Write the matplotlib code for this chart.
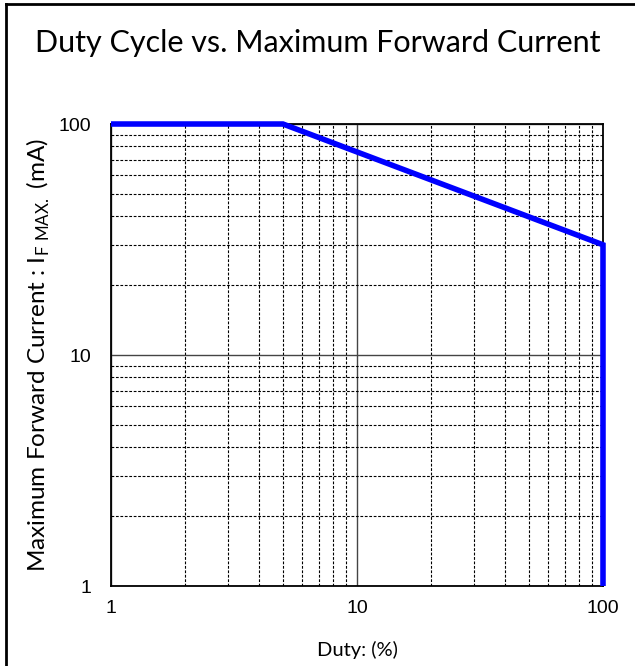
import matplotlib.pyplot as plt
from matplotlib.lines import Line2D
from matplotlib.ticker import FixedLocator, LogLocator, NullFormatter

# derating curve: duty cycle (%) vs max forward current (mA)
duty = [1, 5, 100, 100]
current = [100, 100, 30, 1]

x_ticks = [1, 10, 100]
x_tick_labels = ['1', '10', '100']
y_ticks = [1, 10, 100]
y_tick_labels = ['1', '10', '100']

plt.rcParams['font.family'] = 'Liberation Sans'
plt.rcParams['mathtext.fontset'] = 'custom'
plt.rcParams['mathtext.rm'] = 'Lato'

fig = plt.figure(figsize=(6.35, 6.66), dpi=100)
ax = fig.add_axes([0.1748, 0.1201, 0.7748, 0.6937])

ax.set_xscale('log')
ax.set_yscale('log')
ax.set_xlim(1, 100)
ax.set_ylim(1, 100)

ax.plot(duty, current, color='#0000ff', lw=4.0, solid_capstyle='butt',
        solid_joinstyle='miter', clip_on=False, zorder=5)

ax.xaxis.set_major_locator(FixedLocator(x_ticks))
ax.yaxis.set_major_locator(FixedLocator(y_ticks))
ax.set_xticklabels(x_tick_labels, fontfamily='Liberation Sans', fontsize=14)
ax.set_yticklabels(y_tick_labels, fontfamily='Liberation Sans', fontsize=14)
ax.xaxis.set_minor_locator(LogLocator(base=10, subs=range(2, 10)))
ax.yaxis.set_minor_locator(LogLocator(base=10, subs=range(2, 10)))
ax.xaxis.set_minor_formatter(NullFormatter())
ax.yaxis.set_minor_formatter(NullFormatter())

ax.grid(which='major', color='#444444', lw=1.0, ls='-')
ax.grid(which='minor', color='black', lw=0.8, ls=(0, (2.5, 1.5)))
ax.tick_params(which='both', length=0)
ax.tick_params(axis='x', pad=10)
ax.tick_params(axis='y', pad=14)

for s in ax.spines.values():
    s.set_linewidth(1.3)
    s.set_color('black')

ax.set_xlabel('Duty: (%)', fontfamily='Lato', fontsize=14.5, labelpad=17)
ax.set_ylabel(r'Maximum Forward Current : I$_{\mathrm{F\ MAX.}}$ (mA)',
              fontfamily='Lato', fontsize=17.5, labelpad=5)

fig.text(0.5, 0.935, 'Duty Cycle vs. Maximum Forward Current',
         ha='center', va='center', fontfamily='Lato', fontsize=22)

# outer frame (top and left edges)
fig.add_artist(Line2D([0.009, 1.0], [0.9945, 0.9945], color='black', lw=2,
                      transform=fig.transFigure))
fig.add_artist(Line2D([0.009, 0.009], [0.0, 0.9945], color='black', lw=2,
                      transform=fig.transFigure))

fig.savefig('out.png', dpi=100)
